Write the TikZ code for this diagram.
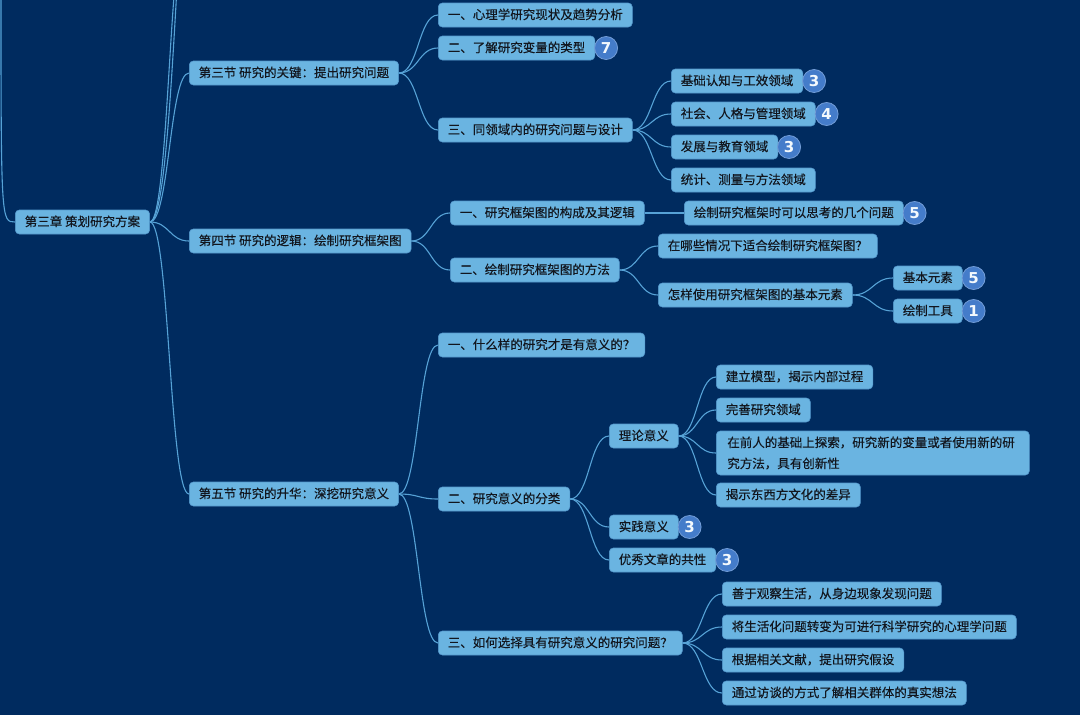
\documentclass[tikz,border=0pt]{standalone}
\usepackage{fontspec}
\setmainfont{Noto Sans CJK SC}[FakeBold=0.3]
\newfontfamily\numfont{DejaVu Sans}
\usetikzlibrary{calc}
\definecolor{bgc}{RGB}{0,43,95}
\definecolor{nodefill}{RGB}{106,180,225}
\definecolor{nodeline}{RGB}{84,152,205}
\definecolor{linkc}{RGB}{86,162,214}
\definecolor{badgefill}{RGB}{68,124,202}
\definecolor{txt}{RGB}{18,22,30}
\newcommand\mlink[2]{\draw[link] (#1.east) .. controls ($(#1.east)!0.5!(#2.west|-#1.east)$) and ($(#2.west)!0.5!(#1.east|-#2.west)$) .. (#2.west);}
\begin{document}
\begin{tikzpicture}[x=1pt,y=-1pt,
  box/.style={draw=nodeline, line width=0.6pt, fill=nodefill, rounded corners=4pt,
    inner xsep=9.5pt, inner ysep=0pt, minimum height=24pt, anchor=west,
    text height=10.2pt, text depth=1.8pt,
    font=\fontsize{12.5}{15}\selectfont, text=txt},
  badge/.style={circle, fill=badgefill, draw=badgefill!75!white, line width=0.8pt,
    minimum size=23pt, inner sep=0pt, text=white!92!nodefill,
    font=\numfont\bfseries\fontsize{15}{15}\selectfont},
  link/.style={draw=linkc, line width=1.1pt},
  offn/.style={inner sep=0pt, minimum size=0pt}]
\fill[bgc] (0,0) rectangle (1080,715);
\clip (0,0) rectangle (1080,715);

% off-screen ends
\coordinate (offp) at (1,-20);
\node[offn] (off1) at (189,-90) {};
\node[offn] (off2) at (205,-260) {};

% root and sections
\node[box] (root) at (15,222) {第三章 策划研究方案};
\node[box] (s3) at (189,73) {第三节 研究的关键：提出研究问题};
\node[box] (s4) at (189,241) {第四节 研究的逻辑：绘制研究框架图};
\node[box] (s5) at (189,494) {第五节 研究的升华：深挖研究意义};

% section 3
\node[box] (s3a) at (438,15) {一、心理学研究现状及趋势分析};
\node[box] (s3b) at (438,48) {二、了解研究变量的类型};
\node[box] (s3c) at (438,130) {三、同领域内的研究问题与设计};
\node[box] (c1) at (671,81) {基础认知与工效领域};
\node[box] (c2) at (671,114) {社会、人格与管理领域};
\node[box] (c3) at (671,147) {发展与教育领域};
\node[box] (c4) at (671,180) {统计、测量与方法领域};

% section 4
\node[box] (s4a) at (450,213) {一、研究框架图的构成及其逻辑};
\node[box] (s4a1) at (684,213) {绘制研究框架时可以思考的几个问题};
\node[box] (s4b) at (450,270) {二、绘制研究框架图的方法};
\node[box] (s4b1) at (658,246) {在哪些情况下适合绘制研究框架图？};
\node[box] (s4b2) at (658,295) {怎样使用研究框架图的基本元素};
\node[box] (e1) at (893,278) {基本元素};
\node[box] (e2) at (893,311) {绘制工具};

% section 5
\node[box] (s5a) at (438,345) {一、什么样的研究才是有意义的？};
\node[box] (s5b) at (438,499) {二、研究意义的分类};
\node[box] (t) at (609,436) {理论意义};
\node[box] (t1) at (716,377) {建立模型，揭示内部过程};
\node[box] (t2) at (716,410) {完善研究领域};
\node[box, align=left, text width=291pt, text height={}, text depth={}, inner ysep=4pt,
  inner xsep=11pt, minimum height=44pt, font=\fontsize{12.5}{21}\selectfont] (t3) at (716,453)
  {在前人的基础上探索，研究新的变量或者使用新的研\\究方法，具有创新性};
\node[box] (t4) at (716,495) {揭示东西方文化的差异};
\node[box] (p) at (609,527) {实践意义};
\node[box] (g) at (609,560) {优秀文章的共性};
\node[box] (s5c) at (438,643) {三、如何选择具有研究意义的研究问题？};
\node[box] (q1) at (722,594) {善于观察生活，从身边现象发现问题};
\node[box] (q2) at (722,627) {将生活化问题转变为可进行科学研究的心理学问题};
\node[box] (q3) at (722,660) {根据相关文献，提出研究假设};
\node[box] (q4) at (722,693) {通过访谈的方式了解相关群体的真实想法};

% badges
\node[badge] (b1) at ([xshift=11pt]s3b.east) {7};
\node[badge] (b2) at ([xshift=11pt]c1.east) {3};
\node[badge] (b3) at ([xshift=11pt]c2.east) {4};
\node[badge] (b4) at ([xshift=11pt]c3.east) {3};
\node[badge] (b5) at ([xshift=11pt]s4a1.east) {5};
\node[badge] (b6) at ([xshift=11pt]e1.east) {5};
\node[badge] (b7) at ([xshift=11pt]e2.east) {1};
\node[badge] (b8) at ([xshift=11pt]p.east) {3};
\node[badge] (b9) at ([xshift=11pt]g.east) {3};

% links
\draw[link] (offp) .. controls (1,222) and (1,222) .. (root.west);
\mlink{root}{off1}
\mlink{root}{off2}
\mlink{root}{s3}
\mlink{root}{s4}
\mlink{root}{s5}
\mlink{s3}{s3a}
\mlink{s3}{s3b}
\mlink{s3}{s3c}
\mlink{s3c}{c1}
\mlink{s3c}{c2}
\mlink{s3c}{c3}
\mlink{s3c}{c4}
\mlink{s4}{s4a}
\mlink{s4}{s4b}
\mlink{s4a}{s4a1}
\mlink{s4b}{s4b1}
\mlink{s4b}{s4b2}
\mlink{s4b2}{e1}
\mlink{s4b2}{e2}
\mlink{s5}{s5a}
\mlink{s5}{s5b}
\mlink{s5}{s5c}
\mlink{s5b}{t}
\mlink{s5b}{p}
\mlink{s5b}{g}
\mlink{t}{t1}
\mlink{t}{t2}
\mlink{t}{t3}
\mlink{t}{t4}
\mlink{s5c}{q1}
\mlink{s5c}{q2}
\mlink{s5c}{q3}
\mlink{s5c}{q4}
\end{tikzpicture}
\end{document}
